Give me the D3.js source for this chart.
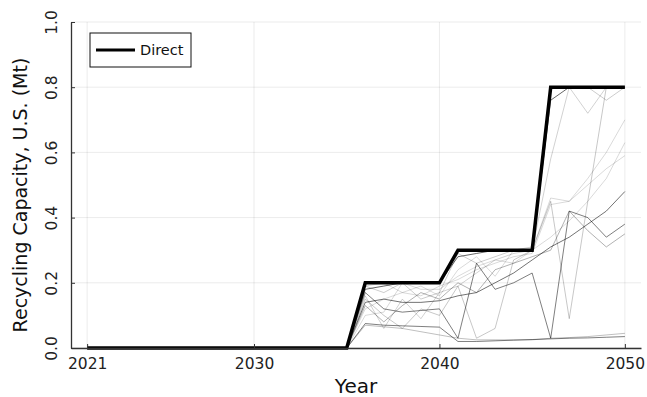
<!DOCTYPE html>
<html>
<head>
<meta charset="utf-8">
<script src="https://cdn.jsdelivr.net/npm/d3@7"></script>
<style>
  html, body { margin: 0; padding: 0; background: #fff; }
  svg { display: block; font-family: "DejaVu Sans", sans-serif; }
</style>
</head>
<body>
<svg id="chart" width="647" height="397"></svg>
<script>
// Years on the x axis
const years = d3.range(2021, 2051);
const xTicks = [2021, 2030, 2040, 2050];
const yTicks = [0, 0.2, 0.4, 0.6, 0.8, 1.0];

// Headline pathway: direct recycling capacity (Mt)
const direct = [
  0,0,0,0,0,0,0,0,0,0, 0,0,0,0,0,
  0.2,0.2,0.2,0.2,0.2,
  0.3,0.3,0.3,0.3,0.3,
  0.8,0.8,0.8,0.8,0.8
];

// Alternative scenario runs, 2036–2050 (zero through 2035)
const runA = [0.18,0.19,0.20,0.20,0.20, 0.28,0.29,0.30,0.30,0.30, 0.76,0.80,0.80,0.80,0.80];
const runB = [0.17,0.12,0.11,0.115,0.12, 0.03,0.26,0.18,0.20,0.23, 0.03,0.42,0.40,0.34,0.38];
const runC = [0.14,0.15,0.14,0.14,0.145, 0.16,0.17,0.20,0.23,0.27, 0.31,0.34,0.38,0.42,0.48];
const runD = [0.07,0.065,0.06,0.05,0.04, 0.03,0.025,0.025,0.025,0.025, 0.03,0.032,0.035,0.04,0.045];
const runE = [0.075,0.07,0.068,0.066,0.064, 0.02,0.02,0.022,0.024,0.026, 0.028,0.03,0.031,0.033,0.035];
const runF = [0.16,0.06,0.15,0.09,0.17, 0.19,0.23,0.27,0.29,0.30, 0.58,0.80,0.72,0.80,0.80];
const runG = [0.15,0.10,0.06,0.12,0.10, 0.19,0.03,0.06,0.27,0.30, 0.45,0.09,0.45,0.80,0.80];
const runH = [0.12,0.15,0.17,0.16,0.19, 0.21,0.24,0.26,0.28,0.29, 0.44,0.45,0.52,0.60,0.70];
const runI = [0.10,0.11,0.20,0.18,0.18, 0.22,0.25,0.27,0.26,0.30, 0.34,0.39,0.45,0.52,0.63];
const runJ = [0.19,0.20,0.17,0.19,0.16, 0.24,0.28,0.22,0.30,0.30, 0.46,0.45,0.50,0.55,0.59];
const runK = [0.13,0.08,0.13,0.17,0.15, 0.20,0.17,0.24,0.26,0.28, 0.30,0.42,0.36,0.31,0.35];
const runL = [0.19,0.17,0.20,0.15,0.17, 0.29,0.26,0.28,0.30,0.31, 0.80,0.80,0.80,0.76,0.80];
const runOpacity = [0.6, 0.5, 0.55, 0.25, 0.5, 0.18, 0.22, 0.15, 0.15, 0.15, 0.3, 0.2];

const runs = [runA, runB, runC, runD, runE, runF, runG, runH, runI, runJ, runK, runL];
const zeros = years.filter(y => y <= 2035).map(() => 0);

const svg = d3.select("#chart");
const plot = { left: 71, right: 641, top: 22, bottom: 348 };

const span = 2050 - 2021;
const x = d3.scaleLinear()
  .domain([2021 - 0.03 * span, 2050 + 0.03 * span])
  .range([plot.left, plot.right]);
const y = d3.scaleLinear().domain([0, 1]).range([plot.bottom, plot.top]);

// grid
const grid = svg.append("g");
grid.selectAll(".gx").data(xTicks).join("line")
  .attr("x1", d => x(d)).attr("x2", d => x(d))
  .attr("y1", plot.top).attr("y2", plot.bottom)
  .attr("stroke", "#000").attr("stroke-opacity", 0.1).attr("stroke-width", 0.8);
grid.selectAll(".gy").data(yTicks).join("line")
  .attr("x1", plot.left).attr("x2", plot.right)
  .attr("y1", d => y(d)).attr("y2", d => y(d))
  .attr("stroke", "#000").attr("stroke-opacity", 0.1).attr("stroke-width", 0.8);

const line = d3.line().x((d, i) => x(years[i])).y(d => y(d));

// scenario runs
svg.append("g").selectAll("path").data(runs).join("path")
  .attr("d", r => line(zeros.concat(r)))
  .attr("fill", "none")
  .attr("stroke", "#000")
  .attr("stroke-opacity", (r, i) => runOpacity[i])
  .attr("stroke-width", 1);

// direct pathway
svg.append("path")
  .attr("d", line(direct))
  .attr("fill", "none")
  .attr("stroke", "#000")
  .attr("stroke-width", 3.5)
  .attr("stroke-linejoin", "miter");

// axes
const xAxis = svg.append("g").attr("transform", `translate(0,${plot.bottom})`)
  .call(d3.axisBottom(x).tickValues(xTicks).tickFormat(d3.format("d")).tickSizeInner(-4).tickSizeOuter(0).tickPadding(11));
const yAxis = svg.append("g").attr("transform", `translate(${plot.left},0)`)
  .call(d3.axisLeft(y).tickValues(yTicks).tickFormat(d3.format(".1f")).tickSizeInner(-4).tickSizeOuter(0).tickPadding(8));

[xAxis, yAxis].forEach(a => {
  a.select(".domain").attr("stroke", "#333").attr("stroke-width", 1.3);
  a.selectAll(".tick line").attr("stroke", "#333");
  a.selectAll("text").attr("font-size", 15.5).attr("fill", "#222")
    .attr("font-family", "DejaVu Sans, sans-serif");
});
xAxis.selectAll("text").attr("dy", "0.66em");
yAxis.selectAll(".tick text")
  .attr("text-anchor", "middle")
  .attr("x", 0).attr("dy", 0)
  .attr("transform", "translate(-19,0) rotate(-90)")
  .attr("dominant-baseline", "middle");

// axis titles
svg.append("text")
  .attr("x", (plot.left + plot.right) / 2).attr("y", 393)
  .attr("text-anchor", "middle").attr("font-size", 20).attr("fill", "#111")
  .text("Year");
svg.append("text")
  .attr("transform", `translate(27,${(plot.top + plot.bottom) / 2 + 10}) rotate(-90)`)
  .attr("text-anchor", "middle").attr("font-size", 19).attr("fill", "#111")
  .text("Recycling Capacity, U.S. (Mt)");

// legend
const lg = svg.append("g").attr("transform", "translate(90,33)");
lg.append("rect").attr("width", 101).attr("height", 34)
  .attr("fill", "#fff").attr("stroke", "#111").attr("stroke-width", 1);
lg.append("line").attr("x1", 6).attr("x2", 45).attr("y1", 17).attr("y2", 17)
  .attr("stroke", "#000").attr("stroke-width", 3);
lg.append("text").attr("x", 50).attr("y", 17).attr("dy", "0.35em")
  .attr("font-size", 14.5).attr("fill", "#111").text("Direct");
</script>
</body>
</html>
